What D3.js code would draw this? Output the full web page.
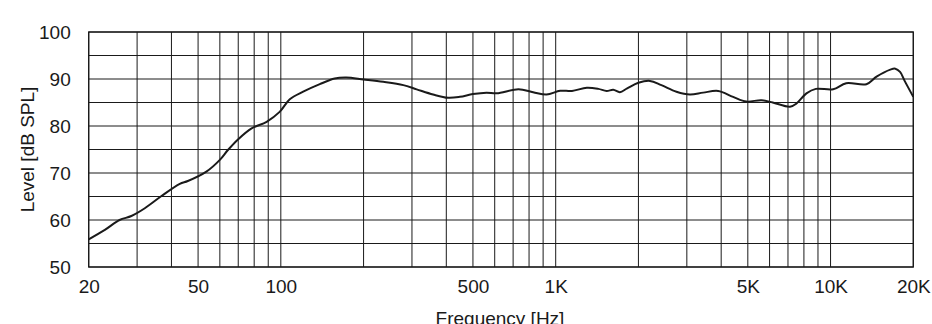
<!DOCTYPE html>
<html>
<head>
<meta charset="utf-8">
<script src="https://cdn.jsdelivr.net/npm/d3@7"></script>
<style>
  body { margin: 0; background: #fff; }
  svg { display: block; }
  text { font-family: "Liberation Sans", Arial, Helvetica, sans-serif; fill: #1a1a1a; }
</style>
</head>
<body>
<div id="chart"></div>
<script>
// frequency response
let freqs = [20, 22.9, 25.9, 28.6, 32, 36.8, 42.9, 45.9, 53.6, 60, 64.2, 70, 78.3, 88.8, 99,
  107.8, 120.6, 138.6, 157, 173, 200, 236, 279, 312, 358, 406, 448, 500, 560,
  610, 732, 828, 926, 1038, 1146, 1298, 1430, 1532, 1620, 1712, 1820, 2000, 2202, 2424, 2750, 3080,
  3440, 3900, 4420, 4940, 5600, 6160, 7120, 7520, 8170, 8840, 10220, 11400, 13500, 14700, 16500,
  17200, 17900, 18600, 20000];
let levels = [55.9, 57.9, 60.0, 60.85, 62.5, 65.1, 67.7, 68.3, 70.3, 72.8, 74.9, 77.2, 79.5, 80.9, 83.0,
  85.7, 87.3, 88.9, 90.1, 90.3, 89.9, 89.4, 88.7, 87.8, 86.7, 86.0, 86.2, 86.8, 87.1,
  86.95, 87.8, 87.2, 86.7, 87.5, 87.45, 88.15, 87.9, 87.45, 87.7, 87.2, 88.0, 89.2, 89.6, 88.7, 87.3, 86.7,
  87.1, 87.45, 86.2, 85.2, 85.5, 85.0, 84.1, 84.8, 86.95, 87.9, 87.8, 89.1, 88.9, 90.5, 92.0,
  92.2, 91.5, 89.6, 86.2];

let xTicks = [20, 50, 100, 500, 1000, 5000, 10000, 20000];
let xTickLabels = ['20', '50', '100', '500', '1K', '5K', '10K', '20K'];
let yTicks = [50, 60, 70, 80, 90, 100];
let xGrid = [20, 30, 40, 50, 60, 70, 80, 90, 100, 200, 300, 400, 500, 600, 700, 800, 900,
  1000, 2000, 3000, 4000, 5000, 6000, 7000, 8000, 9000, 10000, 20000];
let yGrid = [50, 55, 60, 65, 70, 75, 80, 85, 90, 95, 100];

let width = 932, height = 324;
let margin = {top: 32, right: 18.7, bottom: 57, left: 88.7},
  w = width - margin.left - margin.right,
  h = height - margin.top - margin.bottom;

let svg = d3.select('#chart').append('svg')
  .attr('width', width)
  .attr('height', height);

let x = d3.scaleLog().domain([20, 20000]).range([0, w]),
  y = d3.scaleLinear().domain([50, 100]).range([h, 0]);

let g = svg.append('g')
  .attr('transform', 'translate(' + margin.left + ',' + margin.top + ')');

g.selectAll('.vgrid')
  .data(xGrid)
  .enter()
    .append('line')
    .attr('x1', (d) => x(d))
    .attr('x2', (d) => x(d))
    .attr('y1', 0)
    .attr('y2', h)
    .style('stroke', '#1a1a1a')
    .style('stroke-width', 1);

g.selectAll('.hgrid')
  .data(yGrid)
  .enter()
    .append('line')
    .attr('x1', 0)
    .attr('x2', w)
    .attr('y1', (d) => y(d))
    .attr('y2', (d) => y(d))
    .style('stroke', '#1a1a1a')
    .style('stroke-width', 1);

g.append('rect')
  .attr('width', w)
  .attr('height', h)
  .style('fill', 'none')
  .style('stroke', '#1a1a1a')
  .style('stroke-width', 1.3);

let line = d3.line()
  .x((d) => x(d[0]))
  .y((d) => y(d[1]))
  .curve(d3.curveCatmullRom.alpha(0.5));

g.append('path')
  .datum(d3.zip(freqs, levels))
  .attr('d', line)
  .style('fill', 'none')
  .style('stroke', '#1a1a1a')
  .style('stroke-width', 2);

let xAxis = d3.axisBottom(x)
  .tickValues(xTicks)
  .tickFormat((d, i) => xTickLabels[i])
  .tickSize(0)
  .tickPadding(13);

let yAxis = d3.axisLeft(y)
  .tickValues(yTicks)
  .tickFormat(d3.format('d'))
  .tickSize(0)
  .tickPadding(18);

let gx = g.append('g')
  .attr('transform', 'translate(0,' + h + ')')
  .call(xAxis);
let gy = g.append('g')
  .call(yAxis);

[gx, gy].forEach((a) => {
  a.select('.domain').remove();
  a.selectAll('text')
    .style('font-size', '19px')
    .style('font-family', '"Liberation Sans", Arial, sans-serif')
    .attr('fill', '#1a1a1a');
});

svg.append('text')
  .attr('x', 500)
  .attr('y', 325)
  .attr('text-anchor', 'middle')
  .style('font-size', '19px')
  .text('Frequency [Hz]');

svg.append('text')
  .attr('transform', 'translate(34,' + (margin.top + h / 2) + ') rotate(-90)')
  .attr('text-anchor', 'middle')
  .style('font-size', '19px')
  .text('Level [dB SPL]');
</script>
</body>
</html>
